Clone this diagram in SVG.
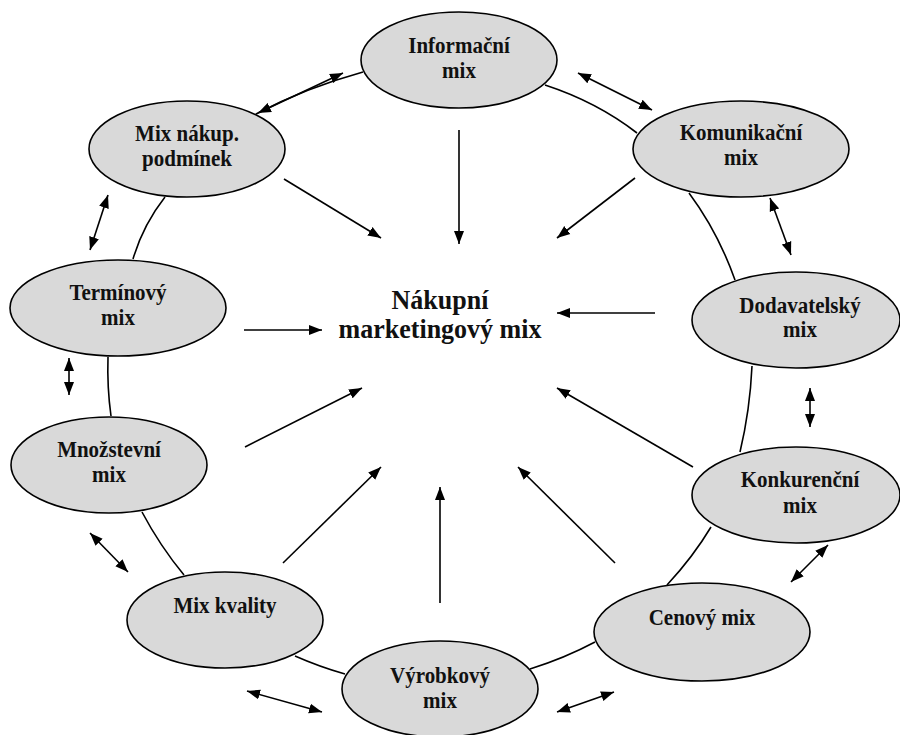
<svg xmlns="http://www.w3.org/2000/svg" width="900" height="735" viewBox="0 0 900 735">
<defs>
<marker id="ah" markerUnits="userSpaceOnUse" markerWidth="14" markerHeight="11" refX="13" refY="5" orient="auto-start-reverse" viewBox="0 0 14 10">
<path d="M0,0 L13,5 L0,10 z" fill="#000"/>
</marker>
</defs>
<style>
.node ellipse{fill:#d9d9d9;stroke:#000;stroke-width:1.6}
.node text{font-family:"Liberation Serif","Times New Roman",serif;font-weight:bold;font-size:21px;text-anchor:middle;fill:#111}
.ring path{fill:none;stroke:#000;stroke-width:1.6}
.arr line{stroke:#000;stroke-width:1.6;marker-end:url(#ah)}
.dbl line{stroke:#000;stroke-width:1.6;marker-start:url(#ah);marker-end:url(#ah)}
.center text{font-family:"Liberation Serif","Times New Roman",serif;font-weight:bold;font-size:26px;text-anchor:middle;fill:#111}
</style>
<rect width="900" height="735" fill="#fff"/>
<g id="connectors">
<g class="ring">
<path d="M545,85 Q597,102 637,133"/>
<path d="M363,72 Q305,88 256,114"/>
<path d="M165,197 Q143,225 133,259"/>
<path d="M108,357 Q107,387 111,416"/>
<path d="M142,512 Q160,546 184,575"/>
<path d="M295,656 Q320,667 345,674"/>
<path d="M530,669 Q565,658 595,642"/>
<path d="M667,585 Q693,557 711,527"/>
<path d="M740,452 Q750,410 752,366"/>
<path d="M735,280 Q718,232 689,193"/>
</g>
<g class="dbl">
<line x1="578" y1="73" x2="652" y2="110"/>
<line x1="258" y1="113" x2="343" y2="73"/>
<line x1="108" y1="195" x2="90" y2="250"/>
<line x1="69" y1="358" x2="69" y2="395"/>
<line x1="90" y1="533" x2="128" y2="572"/>
<line x1="247" y1="691" x2="322" y2="712"/>
<line x1="557" y1="712" x2="614" y2="692"/>
<line x1="791" y1="582" x2="828" y2="545"/>
<line x1="810" y1="388" x2="810" y2="427"/>
<line x1="770" y1="198" x2="791" y2="255"/>
</g>
<g class="arr">
<line x1="459" y1="130" x2="459" y2="244"/>
<line x1="284" y1="179" x2="381" y2="238"/>
<line x1="635" y1="178" x2="557" y2="238"/>
<line x1="244" y1="330" x2="322" y2="330"/>
<line x1="655" y1="313" x2="557" y2="313"/>
<line x1="245" y1="447" x2="362" y2="388"/>
<line x1="283" y1="563" x2="381" y2="467"/>
<line x1="440" y1="603" x2="440" y2="487"/>
<line x1="615" y1="563" x2="518" y2="467"/>
<line x1="693" y1="467" x2="557" y2="388"/>
</g>
</g>
<g id="center" class="center">
<text transform="translate(440,309) scale(1,1.04)">Nákupní</text>
<text transform="translate(440,338) scale(1,1.04)">marketingový mix</text>
</g>
<g id="informacni" class="node"><ellipse cx="459" cy="60" rx="98" ry="48"/><text transform="translate(459,53) scale(1,1.13)">Informační</text><text transform="translate(459,78) scale(1,1.13)">mix</text></g>
<g id="mix-nakup" class="node"><ellipse cx="187" cy="149" rx="98" ry="48"/><text transform="translate(187,141) scale(1,1.13)">Mix nákup.</text><text transform="translate(187,166) scale(1,1.13)">podmínek</text></g>
<g id="terminovy" class="node"><ellipse cx="118" cy="308" rx="108" ry="48"/><text transform="translate(118,300) scale(1,1.13)">Termínový</text><text transform="translate(118,325) scale(1,1.13)">mix</text></g>
<g id="mnozstevni" class="node"><ellipse cx="109" cy="465" rx="98" ry="48"/><text transform="translate(109,457) scale(1,1.13)">Množstevní</text><text transform="translate(109,482) scale(1,1.13)">mix</text></g>
<g id="mix-kvality" class="node"><ellipse cx="225" cy="620" rx="98" ry="48"/><text transform="translate(225,613) scale(1,1.13)">Mix kvality</text></g>
<g id="vyrobkovy" class="node"><ellipse cx="440" cy="689" rx="98" ry="48"/><text transform="translate(440,683) scale(1,1.13)">Výrobkový</text><text transform="translate(440,708) scale(1,1.13)">mix</text></g>
<g id="cenovy" class="node"><ellipse cx="702" cy="632" rx="108" ry="49"/><text transform="translate(702,625) scale(1,1.13)">Cenový mix</text></g>
<g id="konkurencni" class="node"><ellipse cx="796" cy="495" rx="104" ry="48"/><text transform="translate(800,487) scale(1,1.13)">Konkurenční</text><text transform="translate(800,513) scale(1,1.13)">mix</text></g>
<g id="dodavatelsky" class="node"><ellipse cx="796" cy="320" rx="104" ry="48"/><text transform="translate(800,313) scale(1,1.13)">Dodavatelský</text><text transform="translate(800,337) scale(1,1.13)">mix</text></g>
<g id="komunikacni" class="node"><ellipse cx="741" cy="149" rx="108" ry="48"/><text transform="translate(741,140) scale(1,1.13)">Komunikační</text><text transform="translate(741,165) scale(1,1.13)">mix</text></g>
</svg>
